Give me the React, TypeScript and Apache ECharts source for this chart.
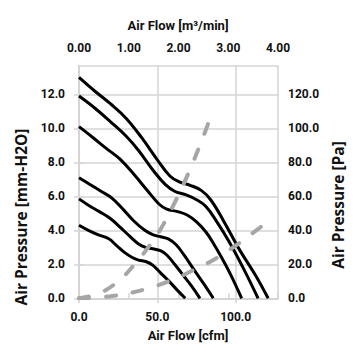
import React, { useEffect, useRef } from "react";
import * as echarts from "echarts";

// Fan curves: [airflow cfm, pressure mm-H2O]
const fanCurve1: number[][] = [[0,13.0],[10,12.2],[20,11.45],[30,10.6],[40,9.45],[50,8.15],[58,7.2],[64,6.85],[71,6.65],[78,6.35],[84,5.8],[92,4.6],[102.5,2.85],[113,1.3],[120.7,0]];
const fanCurve2: number[][] = [[0,11.9],[10,11.2],[20,10.4],[30,9.55],[38,8.7],[48,7.45],[55,6.7],[61,6.3],[68,6.1],[75,5.8],[81,5.4],[88,4.5],[96,3.3],[105,1.75],[114.3,0]];
const fanCurve3: number[][] = [[0,10.1],[9,9.45],[17,8.85],[26,8.2],[35,7.3],[44,6.3],[51,5.55],[56,5.25],[63,5.1],[69,4.9],[75,4.5],[81,3.9],[86,3.2],[91,2.4],[97,1.35],[103.8,0]];
const fanCurve4: number[][] = [[0,7.1],[7,6.7],[14,6.3],[21,5.9],[28,5.25],[35,4.55],[42,4.0],[47,3.75],[52,3.62],[57,3.5],[62,3.15],[67,2.55],[74,1.6],[80,0.8],[85.7,0]];
const fanCurve5: number[][] = [[0,5.85],[6.5,5.45],[13,5.1],[20,4.7],[26,4.2],[33,3.6],[38,3.2],[42.5,3.0],[47,2.92],[52,2.8],[56,2.55],[61,2.0],[67,1.3],[72,0.7],[77.2,0]];
const fanCurve6: number[][] = [[0,4.3],[6,4.0],[12,3.75],[19,3.5],[24,3.1],[29,2.7],[34,2.4],[38,2.25],[43,2.15],[47,1.95],[52,1.5],[58,0.95],[63,0.45],[67.8,0]];

// System impedance curves (dashed)
const systemHigh: number[][] = [[0,0],[13,0.3],[25,1.0],[35,1.95],[45,3.1],[52,4.05],[62,5.8],[70,7.4],[78,9.2],[85.7,11.1]];
const systemLow: number[][] = [[0,0],[20,0.12],[41,0.5],[60,1.1],[73,1.66],[86,2.27],[100,3.1],[111,3.85],[117.5,4.3]];

const fanCurves = [fanCurve1, fanCurve2, fanCurve3, fanCurve4, fanCurve5, fanCurve6];
const systemCurves = [systemHigh, systemLow];

const topTitle = "Air Flow [m\u00B3/min]";
const bottomTitle = "Air Flow [cfm]";
const leftTitle = "Air Pressure [mm-H2O]";
const rightTitle = "Air Pressure [Pa]";

const labelFont = "Roboto, 'Noto Sans', sans-serif";
const sideTitleFont = "'Open Sans', 'Noto Sans', sans-serif";
const gridColor = "#d4d4d4";

export default function App() {
  const ref = useRef<HTMLDivElement>(null);
  useEffect(() => {
    if (!ref.current) return;
    const chart = echarts.init(ref.current, null, { renderer: "svg" });
    const labelStyle = { color: "#111", fontFamily: labelFont, fontWeight: "bold" as const, fontSize: 12 };
    const axisLine = { show: true, lineStyle: { color: gridColor, width: 1.5 } };
    const axisTick = { show: true, length: 5, lineStyle: { color: gridColor, width: 1.5 } };
    const base = { fill: "#111", align: "center", verticalAlign: "middle" };
    chart.setOption({
      animation: false,
      backgroundColor: "#fff",
      grid: { left: 79, right: 77, top: 65.5, bottom: 56.7, containLabel: false },
      xAxis: [
        {
          type: "value", position: "bottom", min: 0, max: 127, interval: 50,
          axisLine, axisTick,
          axisLabel: { ...labelStyle, margin: 13, showMaxLabel: false, formatter: (v: number) => v.toFixed(1) },
          splitLine: { show: true, lineStyle: { color: gridColor, width: 1.5 } },
        },
        {
          type: "value", position: "top", min: 0, max: 4, interval: 1,
          axisLine, axisTick,
          axisLabel: { ...labelStyle, margin: 12, formatter: (v: number) => v.toFixed(2) },
          splitLine: { show: false },
        },
      ],
      yAxis: [
        {
          type: "value", position: "left", min: 0, max: 13.7, interval: 2,
          axisLine, axisTick,
          axisLabel: { ...labelStyle, margin: 14, showMaxLabel: false, formatter: (v: number) => v.toFixed(1) },
          splitLine: { show: true, lineStyle: { color: gridColor, width: 1.5 } },
        },
        {
          type: "value", position: "right", min: 0, max: 137, interval: 20,
          axisLine, axisTick,
          axisLabel: { ...labelStyle, margin: 10, showMaxLabel: false, formatter: (v: number) => v.toFixed(1) },
          splitLine: { show: false },
        },
      ],
      series: [
        ...fanCurves.map((d, i) => ({
          type: "line", name: `Fan ${i + 1}`, data: d, xAxisIndex: 0, yAxisIndex: 0,
          smooth: 0.4, showSymbol: false, symbol: "none",
          lineStyle: { color: "#000", width: 3 },
        })),
        ...systemCurves.map((d, i) => ({
          type: "line", name: `System ${i + 1}`, data: d, xAxisIndex: 0, yAxisIndex: 0,
          smooth: 0.4, showSymbol: false, symbol: "none",
          lineStyle: { color: "#a6a6a6", width: 4, type: [10, 17], cap: "round" },
        })),
      ],
      graphic: [
        { type: "text", x: 178, y: 25, style: { ...base, text: topTitle, font: `bold 13px ${labelFont}` } },
        { type: "text", x: 188, y: 335, style: { ...base, text: bottomTitle, font: `bold 13px ${labelFont}` } },
        { type: "text", x: 21, y: 217, rotation: Math.PI / 2, style: { ...base, text: leftTitle, font: `bold 15.5px ${sideTitleFont}` } },
        { type: "text", x: 338, y: 205, rotation: Math.PI / 2, style: { ...base, text: rightTitle, font: `bold 15.5px ${sideTitleFont}` } },
      ],
    });
    return () => chart.dispose();
  }, []);
  return <div ref={ref} style={{ position: "fixed", left: 0, top: 0, width: 355, height: 355 }} />;
}
